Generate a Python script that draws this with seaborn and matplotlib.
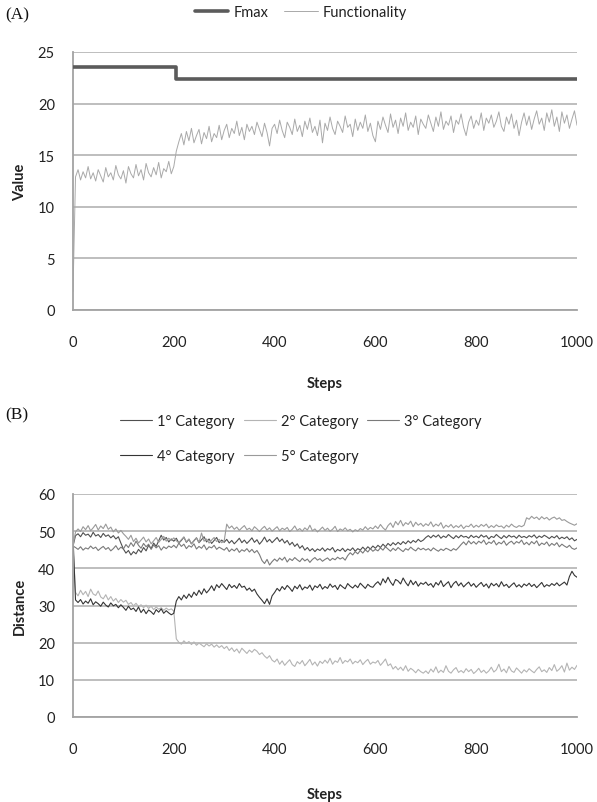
import numpy as np
import pandas as pd
import matplotlib
matplotlib.use("Agg")
import matplotlib.pyplot as plt
import seaborn as sns

# ---------------- data ----------------
steps = np.arange(0, 1001, 5)

# Panel A: maximum functionality (step function) and observed functionality
fmax_steps = [0, 205, 1000]
fmax_vals = [23.5, 22.4, 22.4]

functionality = [
    1.8, 12.9, 13.6, 12.6, 13.4, 12.8, 13.9, 12.7, 13.3, 12.5, 13.6, 13.0, 12.4, 13.8, 12.9, 13.3, 12.6, 14.0, 13.1, 12.7,
    13.5, 12.3, 13.9, 13.2, 12.8, 14.1, 13.0, 13.6, 12.6, 14.2, 13.3, 12.9, 13.8, 13.1, 14.3, 12.8, 13.7, 13.4, 14.4, 13.2,
    13.9, 15.4, 16.3, 17.1, 16.0, 17.3, 16.4, 17.6, 16.2, 16.9, 17.5, 16.1, 17.2, 16.6, 17.8, 16.3, 17.1, 16.7, 17.9, 16.5,
    17.4, 18.0, 16.7, 17.6, 17.1, 18.3, 16.9, 17.7, 16.5, 18.0, 17.3, 17.8, 17.0, 18.2, 17.5, 16.8, 18.1, 17.2, 15.9, 17.6,
    18.0, 17.1, 18.4, 17.4, 16.7, 18.2, 17.7, 17.0, 18.5, 17.3, 17.9, 16.8, 18.3, 17.5, 18.6, 17.2, 17.8, 16.9, 18.4, 16.2,
    18.1, 17.4, 18.7, 17.6, 17.0, 18.3, 17.8, 17.2, 18.8, 17.7, 18.0, 16.8, 18.5, 17.4, 18.2, 17.6, 18.9, 17.3, 18.1, 16.9,
    16.3, 18.3, 17.5, 18.7, 17.9, 17.2, 19.0, 17.7, 18.4, 17.1, 18.6, 17.8, 19.1, 17.4, 18.2, 17.7, 18.8, 17.0, 18.5, 18.0,
    17.6, 18.9, 18.1, 17.3, 18.7, 17.8, 19.2, 17.5, 18.3, 17.9, 18.8, 17.2, 18.4, 18.0, 19.0, 17.7, 16.9, 18.2, 18.8, 17.6,
    18.4, 17.9, 19.1, 17.4, 18.6, 18.1, 18.9, 17.7, 18.3, 19.2, 17.8, 17.3, 18.7, 18.0, 19.0, 17.6, 18.4, 16.9, 18.2, 19.1,
    17.9, 18.8, 17.5, 18.5, 19.3, 18.0, 18.6, 17.4, 19.1, 18.2, 19.4, 17.8, 18.7, 17.3, 19.2, 18.1, 18.9, 17.6, 18.5, 19.3,
    17.9,
]

# Panel B: distance of each category
cat1 = [
    46.0, 48.8, 49.3, 48.5, 49.6, 48.9, 49.2, 48.4, 49.7, 48.7, 49.1, 48.3, 49.4, 48.6, 49.0, 48.2, 48.8, 47.9, 48.5, 46.8,
    45.2, 44.1, 44.8, 43.6, 44.5, 43.9, 45.1, 44.3, 45.6, 44.7, 46.2, 45.3, 46.8, 45.9, 47.4, 48.9, 47.6, 48.3, 47.1, 47.9,
    47.3, 48.1, 46.8, 47.5, 48.4, 47.0, 47.8, 46.6, 47.4, 48.2, 46.9, 47.7, 48.5, 47.1, 47.9, 46.7, 47.5, 48.3, 46.9, 47.6,
    47.0, 47.8, 46.8, 47.5, 46.6, 47.3, 48.1, 46.9, 47.6, 46.7, 47.4, 48.2, 47.0, 47.7, 46.5, 47.3, 48.4, 47.1, 47.8, 46.9,
    47.6, 48.3, 47.2, 47.9, 46.8, 47.5, 46.3, 47.0, 45.9, 46.6, 45.4, 46.1, 44.9, 45.6, 44.7, 45.3, 44.5, 45.2, 44.8, 45.5,
    44.6, 45.3, 44.9, 45.6, 44.4, 45.1, 44.7, 45.4, 44.5, 45.2, 44.8, 45.5, 44.6, 45.3, 44.9, 45.7, 45.0, 45.8, 45.2, 46.0,
    45.4, 46.2, 45.6, 46.5, 45.8, 46.7, 46.1, 46.9, 46.3, 47.0, 46.4, 47.2, 46.6, 47.4, 46.8, 47.5, 47.0, 47.8, 47.2, 47.6,
    48.3, 48.8, 48.2, 48.9, 48.4, 49.0, 48.1, 48.7, 48.3, 49.1, 48.5, 48.0, 48.8, 48.2, 48.9, 48.4, 48.6, 48.1, 48.9, 48.3,
    48.7, 48.2, 49.0, 48.4, 48.8, 47.9, 48.6, 48.3, 49.1, 48.5, 48.0, 48.8, 48.2, 48.9, 48.4, 48.7, 48.1, 48.9, 48.3, 48.6,
    48.2, 48.8, 48.4, 49.0, 48.1, 48.7, 48.3, 48.9, 48.5, 48.0, 48.6, 48.2, 48.8, 47.9, 48.4, 48.0, 48.5, 47.7, 48.2, 47.4,
    47.8,
]

cat2 = [
    46.0, 33.5, 32.6, 34.1, 32.9, 33.8, 32.4, 34.4, 33.1, 32.7, 33.9, 32.3, 31.8, 32.9, 31.5, 32.4, 31.2, 31.9, 30.8, 31.6,
    30.9, 31.4, 30.3, 30.8, 29.9, 30.6, 29.7, 30.2, 29.4, 30.1, 29.2, 29.8, 28.9, 29.6, 29.0, 29.4, 28.7, 29.3, 28.8, 29.1,
    28.5, 21.0, 20.1, 19.6, 20.5, 19.8, 20.3, 19.5, 20.2, 19.3, 19.9, 19.4, 18.9, 19.7, 19.1, 19.6, 18.8, 19.4, 18.7, 19.2,
    18.4, 19.0, 17.9, 18.6, 17.6, 18.3, 17.2, 18.5, 17.8, 17.1, 18.0, 17.4, 18.2, 17.7, 16.8, 17.3, 16.4, 15.8, 16.5, 15.3,
    14.8, 15.6, 14.2, 15.1, 13.9, 14.7, 15.4, 14.1, 13.6, 14.9, 14.3, 15.2, 13.8, 14.6, 15.5, 14.0, 14.8, 13.7, 15.0, 14.4,
    15.3, 14.5, 15.8, 14.2, 15.1, 14.7, 16.0, 14.4, 15.2, 14.8, 15.6, 14.3, 15.0, 14.6, 15.4, 14.1, 14.9, 15.5, 14.2, 14.8,
    14.5, 15.2, 13.9, 14.7, 15.6, 13.8, 14.3, 12.9, 13.6, 12.7, 13.4, 12.5, 13.8, 12.3, 13.1, 12.6, 11.9, 12.8, 12.2, 11.8,
    12.4, 11.7, 12.9, 12.1, 13.5, 11.9, 12.6, 12.0, 13.8, 12.3, 11.8, 12.7, 13.3, 12.0, 12.5, 11.9, 13.0, 12.2, 12.8, 11.7,
    12.3, 13.1, 12.0, 12.6, 11.8, 12.4, 13.4, 12.1, 12.7, 14.2, 12.2, 12.9, 11.9, 13.6, 12.4, 12.0, 13.2, 12.5, 11.8, 12.7,
    12.1, 13.0, 12.4, 11.9, 12.8, 13.5, 12.2, 12.7, 12.0, 13.3, 12.5, 14.1, 12.3, 12.9, 13.8, 12.1, 14.5, 12.6, 13.4, 12.8,
    13.9,
]

cat3 = [
    46.0, 45.6, 45.1, 45.8, 44.9, 45.5, 45.2, 46.0, 45.3, 45.7, 44.8, 45.4, 45.9, 45.1, 45.6, 44.7, 45.3, 46.1, 45.0, 45.7,
    45.2, 46.4, 45.6, 46.9, 45.9, 47.3, 46.2, 45.4, 46.7, 45.8, 46.5, 45.1, 46.3, 45.5, 46.1, 44.9, 45.8, 45.3, 46.0, 45.6,
    46.2, 45.5, 46.8, 45.9, 46.5, 45.3, 46.1, 45.7, 46.6, 45.2, 45.9, 45.4, 46.3, 45.0, 45.8, 45.5, 46.2, 45.1, 45.7, 45.3,
    44.9, 45.6, 44.5, 45.2, 44.7, 45.4, 44.3, 45.0, 44.6, 45.3, 44.4, 45.1, 44.2, 44.8, 43.7, 42.1, 41.3, 42.4, 40.9, 41.8,
    42.5, 41.9, 42.8, 42.2, 43.0, 41.7, 42.6, 42.1, 42.9, 42.3, 41.8, 42.7, 42.0, 42.5, 41.6, 42.4, 42.9, 42.2, 42.6, 41.9,
    42.4, 42.8, 42.1, 42.7, 42.3, 43.0, 42.5, 42.9, 42.2, 43.4, 44.2, 43.6, 44.5, 43.9, 44.8, 44.1, 45.0, 44.4, 45.3, 44.6,
    45.1, 44.7, 45.5, 44.9, 45.8, 45.2, 44.6, 45.4, 44.8, 45.6, 45.0, 44.5, 45.3, 44.9, 45.7, 45.1, 44.7, 45.5, 45.0, 45.4,
    44.9, 45.3, 44.7, 45.5, 45.0, 44.6, 45.2, 44.8, 45.4, 45.1, 44.7, 45.3, 44.9, 45.6, 46.4, 47.1, 46.3, 47.4, 46.6, 47.2,
    46.5, 47.3, 46.8, 47.6, 46.4, 47.1, 46.7, 47.5, 46.3, 47.0, 46.6, 47.4, 46.2, 46.9, 47.3, 46.5, 47.2, 46.8, 47.6, 46.4,
    47.0, 46.3, 47.2, 46.6, 47.4, 46.1, 46.8, 46.4, 47.1, 46.0, 46.7, 46.2, 46.9, 45.8, 46.5, 46.0, 45.6, 46.2, 45.4, 45.1,
    45.5,
]

cat4 = [
    48.5, 31.5, 30.8, 31.6, 30.4, 31.2, 30.6, 31.8, 30.2, 31.0, 30.5, 29.8, 30.9, 30.1, 29.6, 30.7, 29.9, 30.3, 29.4, 30.2,
    29.5, 28.7, 29.8, 28.9, 29.3, 28.4, 29.6, 28.1, 29.0, 27.8, 28.8, 28.3, 27.6, 28.9, 28.2, 29.1, 27.9, 28.6, 28.0, 27.5,
    27.9, 31.2, 32.4, 31.5, 32.8, 31.9, 33.1, 32.2, 33.6, 32.7, 34.1, 33.0, 34.5, 33.4, 34.2, 35.3, 34.0, 35.6, 34.8, 35.9,
    35.1, 34.3, 35.7, 34.8, 35.4, 34.6, 35.9, 34.9, 35.2, 34.1, 34.7, 33.8, 34.4, 33.1, 32.2, 31.4, 30.5, 31.8, 30.3, 32.6,
    33.5, 34.6, 33.9, 35.1, 34.3, 35.4, 34.7, 33.8, 35.2, 34.5, 35.6, 34.2, 35.0, 34.6, 35.5, 34.1, 35.3, 34.8, 35.7, 34.4,
    35.1, 34.6, 35.8, 34.9, 35.4, 34.3, 35.6, 35.0, 34.5, 35.9, 35.2, 34.7, 35.5, 34.8, 36.0, 35.3, 34.6, 35.7, 35.1, 34.9,
    35.8, 36.4, 35.5, 37.2, 36.1, 37.6, 36.3, 35.4, 37.0, 36.6, 35.8, 37.4, 36.2, 35.3, 36.8, 35.6, 36.5, 35.2, 36.1, 35.7,
    36.3, 35.4, 35.9, 34.9, 36.2, 35.5, 36.7, 35.1, 35.8, 36.4, 34.8, 35.9, 36.5, 35.3, 36.1, 35.0, 35.7, 36.3, 35.2, 35.9,
    34.9, 35.6, 36.2, 35.1, 35.8, 34.7, 36.0, 35.3, 35.9, 35.0, 36.4, 35.2, 35.7, 34.8, 35.5, 36.1, 35.0, 35.6, 34.9, 35.8,
    35.3, 36.0, 35.1, 35.7, 34.8, 35.5, 36.2, 35.0, 35.6, 35.2, 35.9, 35.4, 36.1, 35.3, 35.8, 36.3, 35.5, 37.8, 39.2, 38.1,
    37.6,
]

cat5 = [
    46.0, 49.8, 50.6, 49.9, 51.2, 50.4, 51.5, 50.1, 50.9, 51.8, 50.3, 51.4, 50.7, 51.9, 50.5, 51.1, 49.8, 50.6, 49.5, 50.2,
    49.3, 48.6, 47.8, 48.9, 47.2, 48.1, 46.8, 47.6, 48.4, 47.1, 47.9, 46.6, 47.4, 48.3, 47.0, 47.8, 48.6, 47.3, 48.1, 47.5,
    48.2, 47.4, 46.9, 47.7, 48.4, 47.1, 47.9, 46.6, 47.5, 48.2, 46.9, 49.5, 47.3, 47.9, 46.8, 47.6, 48.3, 47.2, 47.8, 46.9,
    47.4, 51.9, 50.8, 51.4, 50.5, 51.1, 50.2, 50.9, 51.5, 50.4, 50.8, 50.1, 51.2, 50.6, 49.9, 50.7, 51.3, 50.3, 50.9, 50.0,
    50.6, 51.2, 50.1, 50.8, 50.4, 51.0, 49.9, 50.5, 51.4, 50.2, 50.7, 50.0, 50.9, 50.3, 51.6, 50.1, 50.6, 49.8, 50.4, 51.1,
    50.2, 50.8, 50.0, 50.5, 51.3, 49.9, 50.6, 50.2, 50.9, 50.1, 50.5, 49.8, 50.4, 50.0, 50.7, 50.3, 51.2, 50.4, 51.0, 50.6,
    51.4, 50.7, 51.8, 50.9, 50.3, 51.5, 52.2, 51.0, 52.6, 51.7, 52.9, 51.4, 52.3, 51.8, 52.7, 51.2, 52.4, 51.6, 52.1, 51.3,
    52.0, 51.5, 52.5, 51.2, 51.9, 51.4, 52.3, 50.8, 51.6, 51.1, 51.8, 50.9, 51.5, 51.0, 51.7, 50.7, 51.4, 51.2, 51.9, 51.0,
    51.6, 51.1, 51.8, 51.3, 51.9, 50.9, 51.5, 51.0, 51.7, 51.2, 51.4, 50.8, 51.6, 51.1, 51.9, 51.3, 51.0, 51.5, 51.2, 51.6,
    53.6, 53.2, 54.0, 53.4, 53.8, 53.1, 53.9, 53.3, 53.7, 53.0, 53.5, 53.8, 53.2, 53.6, 52.9, 53.1, 52.6, 52.2, 51.9, 51.6,
    52.0,
]

category_names = ["1° Category", "2° Category", "3° Category", "4° Category", "5° Category"]
category_colors = ["#4f4f4f", "#b4b4b4", "#7a7a7a", "#353535", "#9a9a9a"]

xticks = [0, 200, 400, 600, 800, 1000]
yticks_a = [0, 5, 10, 15, 20, 25]
yticks_b = [0, 10, 20, 30, 40, 50, 60]

# ---------------- style ----------------
sns.set_style("white")
plt.rcParams["font.family"] = ["Lato", "DejaVu Sans"]
grid_color = "#b9b9b9"
spine_color = "#a3a3a3"
text_color = "#222222"

fig = plt.figure(figsize=(5.97, 8.03), dpi=100)
ax_a = fig.add_axes([73 / 597, 1 - 311 / 803, 504 / 597, 258 / 803])
ax_b = fig.add_axes([73 / 597, 1 - 718 / 803, 504 / 597, 223 / 803])

df_a = pd.DataFrame({"Steps": steps, "Functionality": functionality})
df_fmax = pd.DataFrame({"Steps": fmax_steps, "Fmax": fmax_vals})
df_b = pd.DataFrame({"Steps": steps, category_names[0]: cat1, category_names[1]: cat2,
                     category_names[2]: cat3, category_names[3]: cat4, category_names[4]: cat5})


def style_axes(ax, yticks, ylabel, xlabel_y):
    ax.set_xlim(0, 1000)
    ax.set_ylim(yticks[0], yticks[-1])
    ax.set_xticks(xticks)
    ax.set_yticks(yticks)
    ax.yaxis.grid(True, color=grid_color, linewidth=1.3)
    ax.xaxis.grid(False)
    ax.set_axisbelow(True)
    for side in ["top", "right"]:
        ax.spines[side].set_visible(False)
    for side in ["left", "bottom"]:
        ax.spines[side].set_color(spine_color)
        ax.spines[side].set_linewidth(1.3)
    ax.tick_params(axis="both", length=0, labelsize=10.5, colors=text_color)
    ax.tick_params(axis="x", pad=18)
    ax.tick_params(axis="y", pad=13)
    ax.set_xlabel("Steps", fontsize=10.5, fontweight="bold", color=text_color)
    ax.set_ylabel(ylabel, fontsize=10.5, fontweight="bold", color=text_color)
    ax.xaxis.set_label_coords(0.5, xlabel_y)
    ax.yaxis.set_label_coords(-0.092, 0.5)


# ---- Panel A ----
sns.lineplot(data=df_fmax, x="Steps", y="Fmax", ax=ax_a, color="#5b5b5b",
             linewidth=2.6, drawstyle="steps-post", label="Fmax", zorder=3)
sns.lineplot(data=df_a, x="Steps", y="Functionality", ax=ax_a, color="#a9a9a9",
             linewidth=0.7, label="Functionality", zorder=2)
style_axes(ax_a, yticks_a, "Value", -0.255)
handles, labels = ax_a.get_legend_handles_labels()
ax_a.legend(handles, labels, loc="center", bbox_to_anchor=(301 / 597, 1 - 13 / 803),
            bbox_transform=fig.transFigure, ncol=2, frameon=False, fontsize=10.5,
            handlelength=2.3, handletextpad=0.35, columnspacing=1.1, borderpad=0,
            labelcolor=text_color)

# ---- Panel B ----
for name, color in zip(category_names, category_colors):
    sns.lineplot(data=df_b, x="Steps", y=name, ax=ax_b, color=color,
                 linewidth=0.8, label=name)
style_axes(ax_b, yticks_b, "Distance", -0.315)
handles, labels = ax_b.get_legend_handles_labels()
order = [0, 3, 1, 4, 2]
ax_b.legend([handles[i] for i in order], [labels[i] for i in order], loc="center",
            bbox_to_anchor=(301 / 597, 1 - 439.5 / 803), bbox_transform=fig.transFigure,
            ncol=3, frameon=False, fontsize=10.5, handlelength=2.2, handletextpad=0.35,
            columnspacing=0.6, labelspacing=1.4, borderpad=0, labelcolor=text_color)

# panel tags
fig.text(5 / 597, 1 - 15 / 803, "(A)", family="Liberation Serif", fontsize=12.5,
         va="center", ha="left", color="#111111")
fig.text(5 / 597, 1 - 415 / 803, "(B)", family="Liberation Serif", fontsize=12.5,
         va="center", ha="left", color="#111111")

fig.savefig("out.png", dpi=100)
